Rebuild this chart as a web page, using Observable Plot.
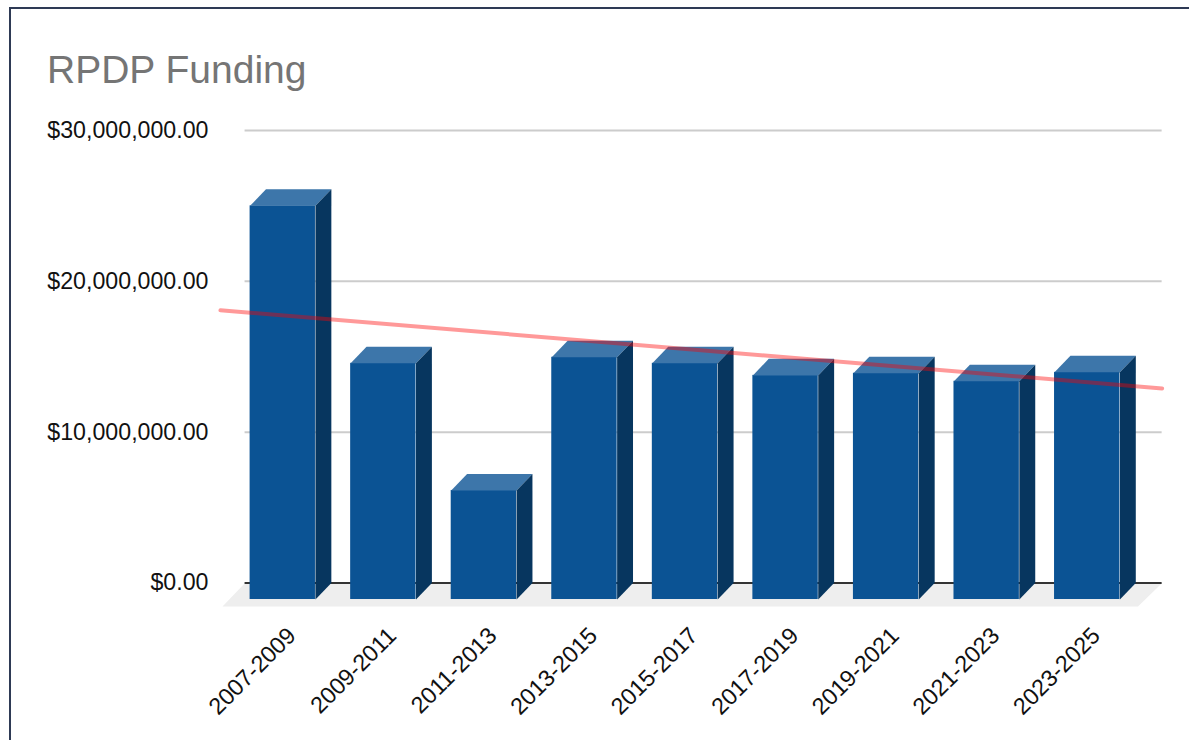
<!DOCTYPE html>
<html><head><meta charset="utf-8">
<script src="https://cdn.jsdelivr.net/npm/d3@7"></script>
<script src="https://cdn.jsdelivr.net/npm/@observablehq/plot@0.6"></script>
<style>
html,body{margin:0;padding:0;background:#fff;overflow:hidden}
#frame{position:absolute;left:9px;top:7px;right:0;bottom:0;border-left:2px solid #2e3a55;border-top:2px solid #2e3a55}
#title{position:absolute;left:47px;top:46px;font:39px/48px "Liberation Sans",Arial,sans-serif;color:#757575;white-space:nowrap}
#chart{position:absolute;left:0;top:100px}
#chart svg{display:block;background:transparent}
</style></head>
<body>
<div id="frame"></div>
<div id="title">RPDP Funding</div>
<div id="chart"></div>
<script>
const periods = ["2007-2009","2009-2011","2011-2013","2013-2015","2015-2017","2017-2019","2019-2021","2021-2023","2023-2025"];
const funding = [26100000,15660000,7230000,16060000,15660000,14860000,15000000,14470000,15060000];
const yTicks = [0,10000000,20000000,30000000];
const trendX = [-0.62,8.745];
const trendY = [18080000,12900000];

// pseudo-3D depth, expressed in data units
const halfBar = 0.325, depthX = 0.158, depthY = 1095000;
const planeLeft = -0.375, planeRight = 8.745, floorFrontY = -1560000, floorLeft = -0.6, floorRight = 8.505;

const rows = funding.map((v,i)=>({i,v}));
const poly = (pts,id)=>pts.map(([x,y])=>({x,y,id}));
const tops = rows.flatMap(({i,v})=>poly([
  [i-halfBar,v-depthY],[i+halfBar,v-depthY],[i+halfBar+depthX,v],[i-halfBar+depthX,v]],i));
const sides = rows.flatMap(({i,v})=>poly([
  [i+halfBar,-depthY],[i+halfBar,v-depthY],[i+halfBar+depthX,v],[i+halfBar+depthX,0]],i));
const floor = poly([[floorLeft,floorFrontY],[floorRight,floorFrontY],[planeRight,0],[planeLeft,0]],0);

const money = d3.format("$,.2f");
const font = '"Liberation Sans",Arial,sans-serif';

const plot = Plot.plot({
  width:1189, height:640,
  marginLeft:232, marginRight:52, marginTop:30, marginBottom:157.5,
  style:{fontFamily:font, fontSize:"21px", color:"#1a1a1a", background:"transparent"},
  x:{type:"linear", domain:[-0.5,8.5], label:null},
  y:{domain:[0,30000000], label:null},
  marks:[
    Plot.line(floor,{x:"x",y:"y",z:"id",fill:"#eeeeee",stroke:null}),
    Plot.ruleY(yTicks.filter(d=>d>0),{x1:planeLeft,x2:planeRight,stroke:"#cccccc",strokeWidth:2}),
    Plot.ruleY([0],{x1:planeLeft,x2:planeRight,stroke:"#333333",strokeWidth:2}),
    Plot.axisY({ticks:yTicks,tickFormat:money,tickSize:0,tickPadding:24,label:null,fontSize:23.2,fill:"#111"}),
    Plot.axisX({ticks:periods.map((_,i)=>i),tickFormat:i=>periods[i],tickSize:0,tickRotate:-45,label:null,fontSize:23.3,fill:"#111",dx:9,dy:37,textAnchor:"end"}),
    Plot.rect(rows,{x1:d=>d.i-halfBar,x2:d=>d.i+halfBar,y1:-depthY,y2:d=>d.v-depthY,fill:"#0b5394"}),
    Plot.line(tops,{x:"x",y:"y",z:"id",fill:"#3d76aa",stroke:null}),
    Plot.line(sides,{x:"x",y:"y",z:"id",fill:"#07365f",stroke:null}),
    Plot.line(trendX.map((x,k)=>({x,y:trendY[k]})),{x:"x",y:"y",stroke:"#ff0000",strokeOpacity:0.4,strokeWidth:4})
  ]
});
document.getElementById("chart").append(plot);
</script>
</body></html>
